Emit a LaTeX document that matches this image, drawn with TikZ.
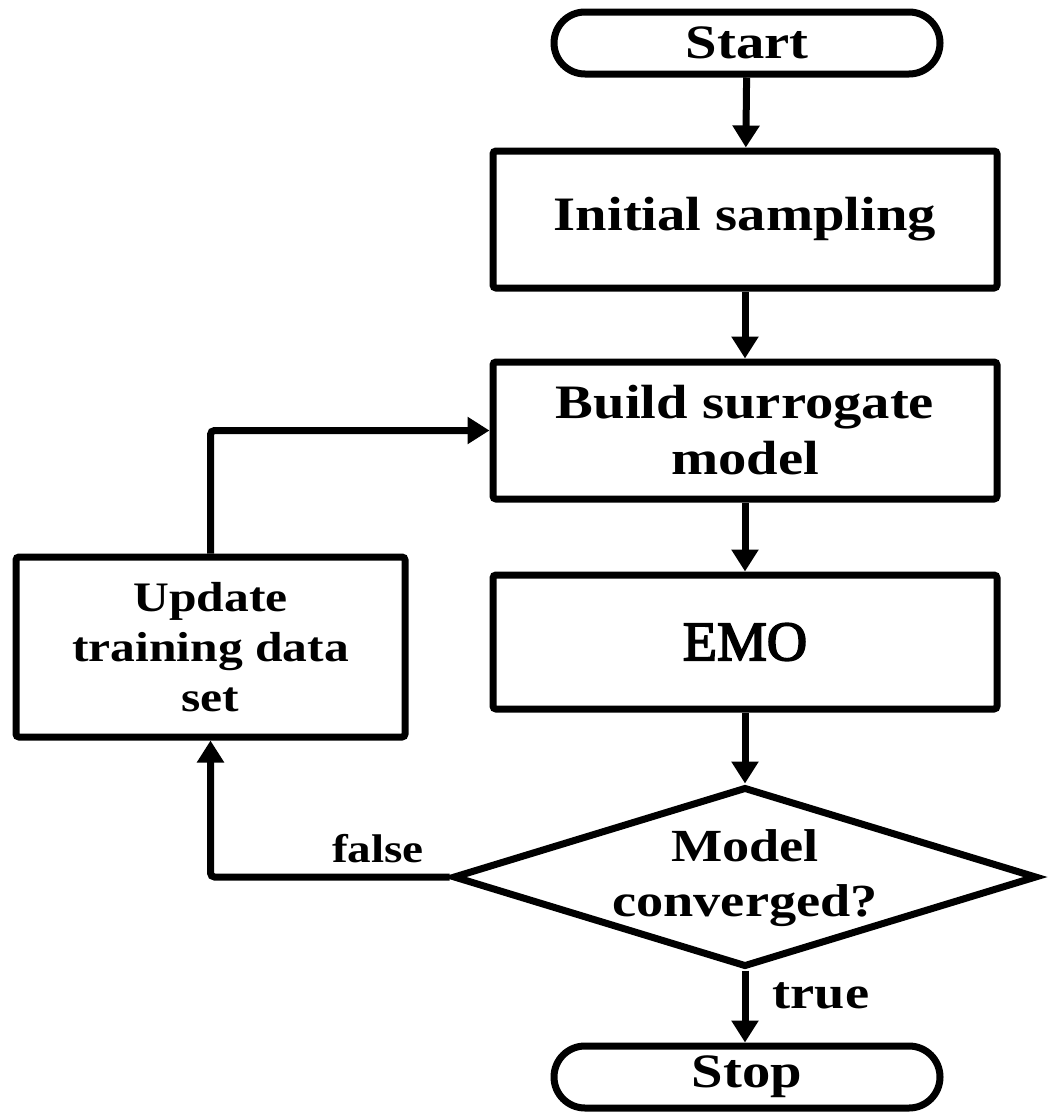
\documentclass[tikz,border=0pt]{standalone}
\usepackage{fontspec}
\setmainfont{Liberation Serif}[FakeStretch=1.18]
\newfontfamily\emofont{Liberation Serif}[FakeBold=3]
\usetikzlibrary{arrows.meta,shapes.geometric}
\newcommand\fsMain{\fontsize{48}{56}\selectfont\bfseries}
\newcommand\fsUpd{\fontsize{42}{50}\selectfont\bfseries}
\newcommand\fsDec{\fontsize{46}{55}\selectfont\bfseries}
\newcommand\fsFalse{\fontsize{40}{46}\selectfont\bfseries}
\newcommand\fsTrue{\fontsize{46}{50}\selectfont\bfseries}
\begin{document}
\begin{tikzpicture}[x=1pt,y=-1pt,
  boxst/.style={draw, line width=7pt, rounded corners=3pt, minimum width=504pt,
    minimum height=137pt, align=center, inner sep=0pt, font=\fsMain},
  term/.style={draw, line width=7pt, rounded corners=31pt, minimum width=386pt,
    minimum height=62pt, inner sep=0pt, font=\fsMain},
  decst/.style={draw, diamond, line width=7pt, minimum width=584pt,
    minimum height=180pt, inner sep=0pt},
  conn/.style={line width=7pt, -{Triangle[length=22pt,width=26pt]},
    rounded corners=4pt},
  lbl/.style={inner sep=0pt}
]
\useasboundingbox (0,0) rectangle (1049,1114);

\node[term] (start) at (747,43) {Start};
\node[boxst] (init) at (745,219.5) {Initial sampling};
\node[boxst] (bld) at (745,430.5) {Build surrogate\\model};
\node[boxst, minimum height=134pt, font=\emofont\fontsize{56}{60}\selectfont] (emo) at (745,642) {EMO};
\node[decst] (dec) at (745,877) {};
\node[lbl, align=center, font=\fsDec] (dect) at (745,878) {Model\\converged?};
\node[term] (stop) at (747,1077) {Stop};
\node[boxst, minimum width=389pt, minimum height=180pt, font=\fsUpd] (upd) at (210.5,647) {Update\\training data\\set};
\node[lbl, font=\fsFalse] (fl) at (378,849) {false};
\node[lbl, font=\fsTrue] (tl) at (821,996) {true};

\draw[conn] (start) -- (init);
\draw[conn] (init) -- (bld);
\draw[conn] (bld) -- (emo);
\draw[conn] (emo) -- (dec.north);
\draw[conn] (dec.south) -- (dec.south |- stop.north);
\draw[conn] (dec.west) -| (upd.south);
\draw[conn] (upd.north) |- (bld.west);
\end{tikzpicture}
\end{document}
